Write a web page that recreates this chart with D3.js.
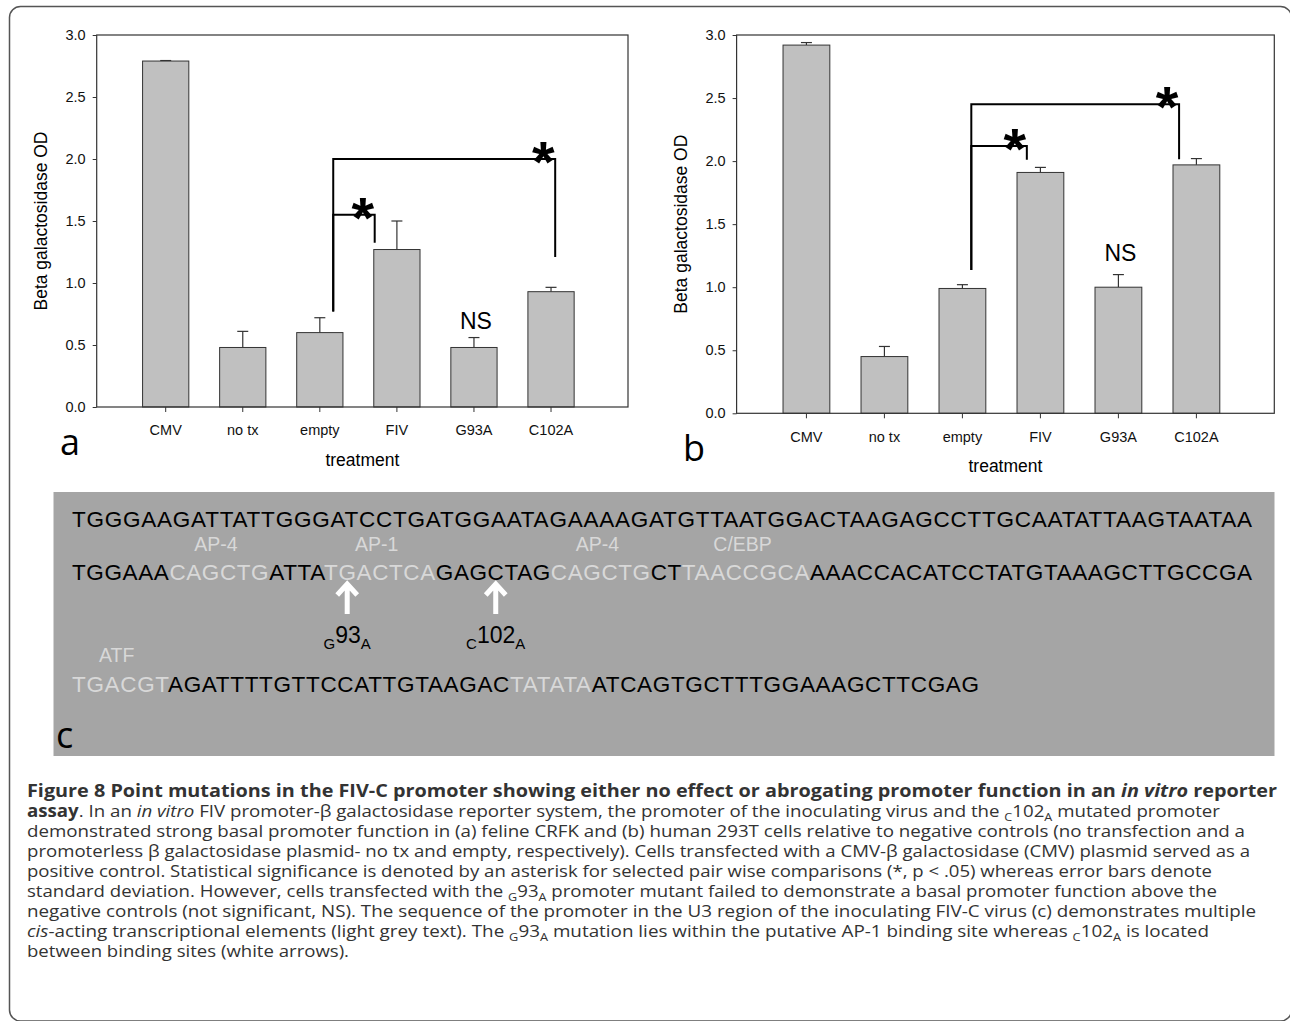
<!DOCTYPE html>
<html>
<head>
<meta charset="utf-8">
<script src="https://cdn.jsdelivr.net/npm/d3@7"></script>
<style>
  body { margin: 0; background: #fff; }
  svg { display: block; }
</style>
</head>
<body>
<svg id="fig" width="1290" height="1021"></svg>
<script>
// ---- data ----
const categories = ["CMV", "no tx", "empty", "FIV", "G93A", "C102A"];
const yTicks = [0, 0.5, 1.0, 1.5, 2.0, 2.5, 3.0];

// panel a (feline CRFK)
const meansA = [2.79, 0.48, 0.60, 1.27, 0.48, 0.93];
const errA   = [0.004, 0.13, 0.12, 0.23, 0.08, 0.035];
// panel b (human 293T)
const meansB = [2.92, 0.45, 0.99, 1.91, 1.00, 1.97];
const errB   = [0.02, 0.08, 0.03, 0.04, 0.10, 0.05];

// significance brackets, in data units (level, lower ends of the legs)
const bracketsA = [
  { from: "empty", to: "FIV",   level: 1.55, fromLow: 0.77,  toLow: 1.325, fromOff: 0.29, toOff: -0.48 },
  { from: "empty", to: "C102A", level: 2.00, fromLow: 0.77,  toLow: 1.21,  fromOff: 0.29, toOff: 0.09 }
];
const bracketsB = [
  { from: "empty", to: "FIV",   level: 2.12, fromLow: 1.136, toLow: 2.01,  fromOff: 0.19, toOff: -0.29 },
  { from: "empty", to: "C102A", level: 2.45, fromLow: 1.136, toLow: 2.014, fromOff: 0.19, toOff: -0.37 }
];
const nsA = { cat: "G93A", value: 0.69 };
const nsB = { cat: "G93A", value: 1.27 };

// promoter sequence (0 = plain base, 1 = binding element)
const seqLines = [
  [["TGGGAAGATTATTGGGATCCTGATGGAATAGAAAAGATGTTAATGGACTAAGAGCCTTGCAATATTAAGTAATAA", 0]],
  [["TGGAAA", 0], ["CAGCTG", 1], ["ATTA", 0], ["TGACTCA", 1], ["GAGCTAG", 0], ["CAGCTG", 1],
   ["CT", 0], ["TAACCGCA", 1], ["AAACCACATCCTATGTAAAGCTTGCCGA", 0]],
  [["TGACGT", 1], ["AGATTTTGTTCCATTGTAAGAC", 0], ["TATATA", 1], ["ATCAGTGCTTTGGAAAGCTTCGAG", 0]]
];
const siteLabels = [
  { line: 1, seg: 1, name: "AP-4" },
  { line: 1, seg: 3, name: "AP-1" },
  { line: 1, seg: 5, name: "AP-4" },
  { line: 1, seg: 7, name: "C/EBP" },
  { line: 2, seg: 0, name: "ATF" }
];
const mutations = [
  { line: 1, seg: 3, ch: 1, from: "G", pos: "93",  to: "A" },
  { line: 1, seg: 4, ch: 3, from: "C", pos: "102", to: "A" }
];

// caption: [text, style]  b = bold, i = italic, s = subscript
const caption = [
  [["Figure 8 Point mutations in the FIV-C promoter showing either no effect or abrogating promoter function in an ", "b"], ["in vitro", "bi"], [" reporter", "b"]],
  [["assay", "b"], [". In an ", ""], ["in vitro", "i"], [" FIV promoter-β galactosidase reporter system, the promoter of the inoculating virus and the ", ""], ["C", "s"], ["102", ""], ["A", "s"], [" mutated promoter", ""]],
  [["demonstrated strong basal promoter function in (a) feline CRFK and (b) human 293T cells relative to negative controls (no transfection and a", ""]],
  [["promoterless β galactosidase plasmid- no tx and empty, respectively). Cells transfected with a CMV-β galactosidase (CMV) plasmid served as a", ""]],
  [["positive control. Statistical significance is denoted by an asterisk for selected pair wise comparisons (*, p < .05) whereas error bars denote", ""]],
  [["standard deviation. However, cells transfected with the ", ""], ["G", "s"], ["93", ""], ["A", "s"], [" promoter mutant failed to demonstrate a basal promoter function above the", ""]],
  [["negative controls (not significant, NS). The sequence of the promoter in the U3 region of the inoculating FIV-C virus (c) demonstrates multiple", ""]],
  [["cis", "i"], ["-acting transcriptional elements (light grey text). The ", ""], ["G", "s"], ["93", ""], ["A", "s"], [" mutation lies within the putative AP-1 binding site whereas ", ""], ["C", "s"], ["102", ""], ["A", "s"], [" is located", ""]],
  [["between binding sites (white arrows).", ""]]
];
const captionEnds = [1277, 1220, 1245, 1250, 1212, 1217, 1256, 1209, 349];

const svg = d3.select("#fig");
const sans = "'Liberation Sans', Arial, sans-serif";

// outer rounded frame (right and bottom edges fall on the page border)
svg.append("rect")
  .attr("x", 9.5).attr("y", 6.5)
  .attr("width", 1282).attr("height", 1014.5)
  .attr("rx", 11)
  .attr("fill", "none")
  .attr("stroke", "#555")
  .attr("stroke-width", 1.5);

function drawPanel(opt) {
  const g = svg.append("g");
  const x = d3.scaleBand()
    .domain(categories)
    .range([opt.left, opt.right])
    .paddingInner(0.4)
    .paddingOuter(0.647)
    .align(0.46);
  const y = d3.scaleLinear().domain([0, 3]).range([opt.bottom, opt.top]);
  const bw = x.bandwidth();

  const rows = categories.map((c, i) => ({ cat: c, mean: opt.means[i], err: opt.errs[i] }));

  // error bars (upper whisker only)
  const eb = g.append("g").attr("stroke", "#333").attr("stroke-width", 1.2);
  rows.forEach(d => {
    const cx = x(d.cat) + bw / 2;
    eb.append("line").attr("x1", cx).attr("x2", cx)
      .attr("y1", y(d.mean)).attr("y2", y(d.mean + d.err));
    eb.append("line").attr("x1", cx - 5.5).attr("x2", cx + 5.5)
      .attr("y1", y(d.mean + d.err)).attr("y2", y(d.mean + d.err));
  });

  g.selectAll("rect.bar")
    .data(rows)
    .join("rect")
      .attr("class", "bar")
      .attr("x", d => x(d.cat))
      .attr("y", d => y(d.mean))
      .attr("width", bw)
      .attr("height", d => y(0) - y(d.mean))
      .attr("fill", "#c0c0c0")
      .attr("stroke", "#333")
      .attr("stroke-width", 1);

  // plot frame
  g.append("rect")
    .attr("x", opt.left).attr("y", opt.top)
    .attr("width", opt.right - opt.left).attr("height", opt.bottom - opt.top)
    .attr("fill", "none").attr("stroke", "#333").attr("stroke-width", 1.2);

  const yAxis = g.append("g")
    .attr("transform", `translate(${opt.left},0)`)
    .call(d3.axisLeft(y).tickValues(yTicks).tickFormat(d3.format(".1f")).tickSize(4).tickPadding(7));
  const xAxis = g.append("g")
    .attr("transform", `translate(0,${opt.bottom})`)
    .call(d3.axisBottom(x).tickSize(5).tickPadding(13).tickSizeOuter(0));
  [yAxis, xAxis].forEach(a => {
    a.select(".domain").remove();
    a.selectAll("line").attr("stroke", "#333");
    a.selectAll("text").attr("font-family", sans).attr("font-size", 14.5).attr("fill", "#111");
  });

  // axis titles
  g.append("text")
    .attr("transform", `translate(${opt.left - 50},${(opt.top + opt.bottom) / 2}) rotate(-90)`)
    .attr("text-anchor", "middle")
    .attr("font-family", sans).attr("font-size", 17.5)
    .text("Beta galactosidase OD");
  g.append("text")
    .attr("x", (opt.left + opt.right) / 2)
    .attr("y", opt.bottom + 59)
    .attr("text-anchor", "middle")
    .attr("font-family", sans).attr("font-size", 17.5)
    .text("treatment");

  // significance brackets
  opt.brackets.forEach(b => {
    const x1 = x(b.from) + bw / 2 + b.fromOff * bw;
    const x2 = x(b.to) + bw / 2 + b.toOff * bw;
    g.append("path")
      .attr("d", `M${x1},${y(b.fromLow)}V${y(b.level)}H${x2}V${y(b.toLow)}`)
      .attr("fill", "none").attr("stroke", "#000").attr("stroke-width", 2);
    g.append("text")
      .attr("x", x2 - 12)
      .attr("y", y(b.level) - 9 + 32)
      .attr("text-anchor", "middle")
      .attr("font-family", sans).attr("font-weight", "bold").attr("font-size", 58)
      .text("*");
  });

  g.append("text")
    .attr("x", x(opt.ns.cat) + bw / 2 + 2)
    .attr("y", y(opt.ns.value) + 8)
    .attr("text-anchor", "middle")
    .attr("font-family", sans).attr("font-size", 23)
    .text("NS");

  g.append("text")
    .attr("x", opt.letterX).attr("y", opt.bottom + 48)
    .attr("font-family", "'Open Sans', sans-serif").attr("font-size", 36)
    .text(opt.letter);
}

drawPanel({ left: 96.7, right: 628, top: 35, bottom: 407, means: meansA, errs: errA,
            brackets: bracketsA, ns: nsA, letter: "a", letterX: 60 });
drawPanel({ left: 736.6, right: 1274.3, top: 35, bottom: 413.3, means: meansB, errs: errB,
            brackets: bracketsB, ns: nsB, letter: "b", letterX: 683 });

// ---- panel c: promoter sequence ----
const seqG = svg.append("g");
seqG.append("rect")
  .attr("x", 53.5).attr("y", 492).attr("width", 1221).attr("height", 264)
  .attr("fill", "#a5a5a5");

const seqLeft = 72;
const seqBase = [527, 580, 691.5];
const seqEnds = [1252, 1252, 979];
const lightTxt = "#d8d8d8";

const seqNodes = seqLines.map((segs, li) => {
  const t = seqG.append("text")
    .attr("x", seqLeft).attr("y", seqBase[li])
    .attr("font-family", sans).attr("font-size", 22.5)
    .attr("textLength", seqEnds[li] - seqLeft)
    .attr("lengthAdjust", "spacing");
  segs.forEach(s => t.append("tspan").attr("fill", s[1] ? lightTxt : "#000").text(s[0]));
  return t.node();
});

function charIndex(line, seg, ch) {
  let n = 0;
  for (let k = 0; k < seg; k++) n += seqLines[line][k][0].length;
  return n + ch;
}

siteLabels.forEach(l => {
  const node = seqNodes[l.line];
  const i0 = charIndex(l.line, l.seg, 0);
  const i1 = i0 + seqLines[l.line][l.seg][0].length - 1;
  const cx = (node.getStartPositionOfChar(i0).x + node.getEndPositionOfChar(i1).x) / 2;
  seqG.append("text")
    .attr("x", cx - 3).attr("y", seqBase[l.line] - 29.5)
    .attr("text-anchor", "middle")
    .attr("font-family", sans).attr("font-size", 19.5)
    .attr("fill", lightTxt)
    .text(l.name);
});

mutations.forEach(m => {
  const node = seqNodes[m.line];
  const i = charIndex(m.line, m.seg, m.ch);
  const cx = (node.getStartPositionOfChar(i).x + node.getEndPositionOfChar(i).x) / 2;
  const tip = seqBase[m.line] + 2;
  seqG.append("path")
    .attr("d", `M${cx},${tip + 32}V${tip + 2}M${cx - 10},${tip + 13}L${cx},${tip + 2}L${cx + 10},${tip + 13}`)
    .attr("fill", "none").attr("stroke", "#fff").attr("stroke-width", 5);
  const t = seqG.append("text")
    .attr("x", cx).attr("y", seqBase[m.line] + 63)
    .attr("text-anchor", "middle")
    .attr("font-family", sans).attr("font-size", 23).attr("fill", "#000");
  t.append("tspan").attr("font-size", 15).attr("dy", 6).text(m.from);
  t.append("tspan").attr("dy", -6).text(m.pos);
  t.append("tspan").attr("font-size", 15).attr("dy", 6).text(m.to);
});

seqG.append("text")
  .attr("x", 56).attr("y", 748)
  .attr("font-family", "'Open Sans', sans-serif").attr("font-size", 36)
  .text("c");

// ---- caption (glyphs stretched to the line widths of the original) ----
const capG = svg.append("g")
  .attr("font-family", "'Open Sans', sans-serif")
  .attr("font-size", 17)
  .attr("fill", "#333");

caption.forEach((segs, li) => {
  const t = capG.append("text")
    .attr("x", 27).attr("y", 796.5 + li * 20)
    .attr("textLength", captionEnds[li] - 27)
    .attr("lengthAdjust", "spacingAndGlyphs");
  let down = false;
  segs.forEach(([txt, st]) => {
    const sp = t.append("tspan").text(txt);
    if (st.includes("b")) sp.attr("font-weight", "bold");
    if (st.includes("i")) sp.attr("font-style", "italic");
    if (st === "s") {
      sp.attr("font-size", 11.5).attr("dy", down ? 0 : 4);
      down = true;
    } else if (down) {
      sp.attr("dy", -4);
      down = false;
    }
  });
});
</script>
</body>
</html>
